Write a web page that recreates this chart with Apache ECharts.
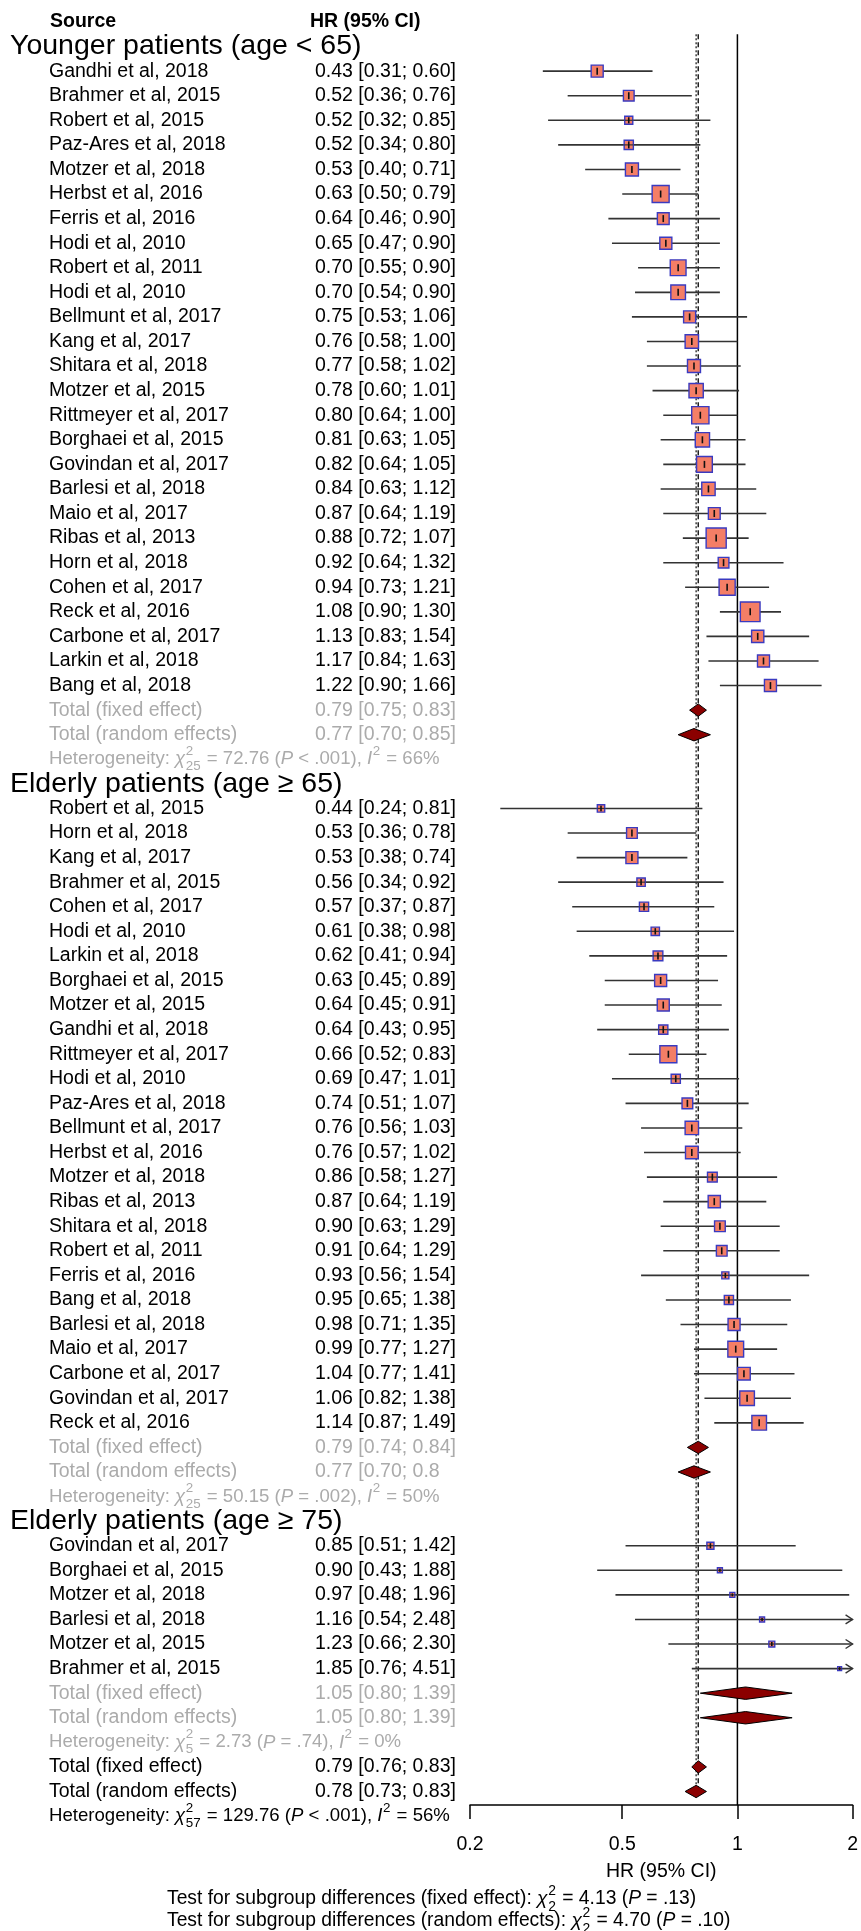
<!DOCTYPE html>
<html><head><meta charset="utf-8">
<script src="https://cdn.jsdelivr.net/npm/echarts@6/dist/echarts.min.js"></script>
<style>html,body{margin:0;padding:0;background:#fff}#c{width:861px;height:1931px}</style>
</head><body><div id="c"></div>
<script>
// ---------------- DATA ----------------
const groupHeaders = ['Younger patients (age < 65)', 'Elderly patients (age \u2265 65)', 'Elderly patients (age \u2265 75)'];

const youngNames = ['Gandhi et al, 2018','Brahmer et al, 2015','Robert et al, 2015','Paz-Ares et al, 2018','Motzer et al, 2018','Herbst et al, 2016','Ferris et al, 2016','Hodi et al, 2010','Robert et al, 2011','Hodi et al, 2010','Bellmunt et al, 2017','Kang et al, 2017','Shitara et al, 2018','Motzer et al, 2015','Rittmeyer et al, 2017','Borghaei et al, 2015','Govindan et al, 2017','Barlesi et al, 2018','Maio et al, 2017','Ribas et al, 2013','Horn et al, 2018','Cohen et al, 2017','Reck et al, 2016','Carbone et al, 2017','Larkin et al, 2018','Bang et al, 2018'];
const youngHR = [0.43,0.52,0.52,0.52,0.53,0.63,0.64,0.65,0.70,0.70,0.75,0.76,0.77,0.78,0.80,0.81,0.82,0.84,0.87,0.88,0.92,0.94,1.08,1.13,1.17,1.22];
const youngLo = [0.31,0.36,0.32,0.34,0.40,0.50,0.46,0.47,0.55,0.54,0.53,0.58,0.58,0.60,0.64,0.63,0.64,0.63,0.64,0.72,0.64,0.73,0.90,0.83,0.84,0.90];
const youngHi = [0.60,0.76,0.85,0.80,0.71,0.79,0.90,0.90,0.90,0.90,1.06,1.00,1.02,1.01,1.00,1.05,1.05,1.12,1.19,1.07,1.32,1.21,1.30,1.54,1.63,1.66];
const youngW  = [2.9,2.3,1.3,1.7,3.4,5.8,2.8,2.9,5.0,4.3,2.9,3.6,3.4,4.1,6.0,4.1,5.0,3.6,2.8,8.1,2.3,5.2,7.8,3.0,2.9,2.9];

const eldNames = ['Robert et al, 2015','Horn et al, 2018','Kang et al, 2017','Brahmer et al, 2015','Cohen et al, 2017','Hodi et al, 2010','Larkin et al, 2018','Borghaei et al, 2015','Motzer et al, 2015','Gandhi et al, 2018','Rittmeyer et al, 2017','Hodi et al, 2010','Paz-Ares et al, 2018','Bellmunt et al, 2017','Herbst et al, 2016','Motzer et al, 2018','Ribas et al, 2013','Shitara et al, 2018','Robert et al, 2011','Ferris et al, 2016','Bang et al, 2018','Barlesi et al, 2018','Maio et al, 2017','Carbone et al, 2017','Govindan et al, 2017','Reck et al, 2016'];
const eldHR = [0.44,0.53,0.53,0.56,0.57,0.61,0.62,0.63,0.64,0.64,0.66,0.69,0.74,0.76,0.76,0.86,0.87,0.90,0.91,0.93,0.95,0.98,0.99,1.04,1.06,1.14];
const eldLo = [0.24,0.36,0.38,0.34,0.37,0.38,0.41,0.45,0.45,0.43,0.52,0.47,0.51,0.56,0.57,0.58,0.64,0.63,0.64,0.56,0.65,0.71,0.77,0.77,0.82,0.87];
const eldHi = [0.81,0.78,0.74,0.92,0.87,0.98,0.94,0.89,0.91,0.95,0.83,1.01,1.07,1.03,1.02,1.27,1.19,1.29,1.29,1.54,1.38,1.35,1.27,1.41,1.38,1.49];
const eldW  = [1.1,2.3,2.9,1.4,1.7,1.4,1.9,2.9,2.9,1.7,5.8,1.7,2.3,3.6,3.2,1.9,3.0,2.3,2.3,1.0,1.7,2.9,5.0,3.2,4.3,4.3];

const old75Names = ['Govindan et al, 2017','Borghaei et al, 2015','Motzer et al, 2018','Barlesi et al, 2018','Motzer et al, 2015','Brahmer et al, 2015'];
const old75HR = [0.85,0.90,0.97,1.16,1.23,1.85];
const old75Lo = [0.51,0.43,0.48,0.54,0.66,0.76];
const old75Hi = [1.42,1.88,1.96,2.48,2.30,4.51];
const old75W  = [1.0,0.5,0.5,0.5,0.7,0.3];

const fixedHR = [0.79,0.79,1.05], fixedLo = [0.75,0.74,0.80], fixedHi = [0.83,0.84,1.39];
const randomHR = [0.77,0.77,1.05], randomLo = [0.70,0.70,0.80], randomHi = [0.85,0.85,1.39];
const fixedLabels = ['0.79 [0.75; 0.83]','0.79 [0.74; 0.84]','1.05 [0.80; 1.39]'];
const randomLabels = ['0.77 [0.70; 0.85]','0.77 [0.70; 0.8','1.05 [0.80; 1.39]'];

const overallFixed = [0.79,0.76,0.83];
const overallRandom = [0.78,0.73,0.83];
const overallLabels = ['0.79 [0.76; 0.83]','0.78 [0.73; 0.83]'];

const hetDf  = ['25','25','5','57'];
const hetChi = ['72.76','50.15','2.73','129.76'];
const hetP   = ['< .001','= .002','= .74','< .001'];
const hetI2  = ['66%','50%','0%','56%'];

const testLabels = ['Test for subgroup differences (fixed effect): ','Test for subgroup differences (random effects): '];
const testDf = ['2','2'];
const testChi = ['4.13','4.70'];
const testP = ['= .13','= .10'];

const xTicks = [0.2,0.5,1,2];
const xTickLabels = ['0.2','0.5','1','2'];
const colHeaders = ['Source','HR (95% CI)'];
const totalNames = ['Total (fixed effect)','Total (random effects)'];
const axisName = 'HR (95% CI)';

// ---------------- BUILD ----------------
const X_MIN = 0.2, X_MAX = 2;
const FONT = '"Liberation Sans", Arial, sans-serif';
const GREY = '#ababab';
const fmt = (h,l,u) => h.toFixed(2)+' ['+l.toFixed(2)+'; '+u.toFixed(2)+']';

const groups = [
  {names: youngNames, hr: youngHR, lo: youngLo, hi: youngHi, w: youngW},
  {names: eldNames, hr: eldHR, lo: eldLo, hi: eldHi, w: eldW},
  {names: old75Names, hr: old75HR, lo: old75Lo, hi: old75Hi, w: old75W}
];
const labelRows = [{row:-2, kind:'colhead'}];
const marks = [];
let r = -1;
groups.forEach((g, gi) => {
  labelRows.push({row:r, kind:'header', text:groupHeaders[gi]}); r++;
  g.names.forEach((n,i) => {
    labelRows.push({row:r, kind:'study', name:n, hrText:fmt(g.hr[i],g.lo[i],g.hi[i]), color:'#000'});
    marks.push([g.hr[i], r, g.lo[i], g.hi[i], g.w[i], 0]); r++;
  });
  labelRows.push({row:r, kind:'study', name:totalNames[0], hrText:fixedLabels[gi], color:GREY});
  marks.push([fixedHR[gi], r, fixedLo[gi], fixedHi[gi], 0, 1]); r++;
  labelRows.push({row:r, kind:'study', name:totalNames[1], hrText:randomLabels[gi], color:GREY});
  marks.push([randomHR[gi], r, randomLo[gi], randomHi[gi], 0, 1]); r++;
  labelRows.push({row:r, kind:'het', gi:gi, color:GREY}); r++;
});
labelRows.push({row:r, kind:'study', name:totalNames[0], hrText:overallLabels[0], color:'#000'});
marks.push([overallFixed[0], r, overallFixed[1], overallFixed[2], 0, 1]); r++;
labelRows.push({row:r, kind:'study', name:totalNames[1], hrText:overallLabels[1], color:'#000'});
marks.push([overallRandom[0], r, overallRandom[1], overallRandom[2], 0, 1]); const randomRow = r; r++;
labelRows.push({row:r, kind:'het', gi:3, color:'#000'});

const Y_MIN = -2, Y_MAX = 70.55;

// text measuring
const mctx = document.createElement('canvas').getContext('2d');
function fontStr(size, italic, bold){ return (italic?'italic ':'')+(bold?'bold ':'')+size+'px '+FONT; }
function tw(t, f){ mctx.font = f; return mctx.measureText(t).width; }
function mathText(parts, x0, y0, size, color){
  const els = []; let x = x0; const ss = size*0.72;
  parts.forEach(p => {
    if (p.t !== undefined) {
      const f = fontStr(size, p.it);
      els.push({type:'text', x:x, y:y0, style:{text:p.t, font:f, fill:color, align:'left', verticalAlign:'middle'}});
      x += tw(p.t, f);
    } else {
      const f = fontStr(ss); let wm = 0;
      if (p.sup) { els.push({type:'text', x:x+0.5, y:y0 - size*0.42, style:{text:p.sup, font:f, fill:color, align:'left', verticalAlign:'middle'}}); wm = Math.max(wm, tw(p.sup,f)); }
      if (p.sub) { els.push({type:'text', x:x+0.5, y:y0 + size*0.4, style:{text:p.sub, font:f, fill:color, align:'left', verticalAlign:'middle'}}); wm = Math.max(wm, tw(p.sub,f)); }
      x += wm + 1.5;
    }
  });
  return els;
}
function hetParts(gi){
  return [{t:'Heterogeneity: '},{t:'\u03c7', it:true},{sup:'2', sub:hetDf[gi]},{t:' = '+hetChi[gi]+' ('},{t:'P', it:true},{t:' '+hetP[gi]+'), '},{t:'I', it:true},{sup:'2'},{t:' = '+hetI2[gi]}];
}
function testParts(i){
  return [{t:testLabels[i]},{t:'\u03c7', it:true},{sup:'2', sub:testDf[i]},{t:' = '+testChi[i]+' ('},{t:'P', it:true},{t:' '+testP[i]+')'}];
}

const NAME_X = 49, HR_X = 315, HEAD_X = 10, BASE = 19.5, HET = 18.6, TEST = 19.3;

function renderLabels(params, api){
  const L = labelRows[params.dataIndex];
  const y = api.coord([1, api.value(1)])[1];
  const ch = [];
  if (L.kind === 'colhead') {
    ch.push({type:'text', x:50, y:y, style:{text:colHeaders[0], font:fontStr(BASE,false,true), fill:'#000', align:'left', verticalAlign:'middle'}});
    ch.push({type:'text', x:310, y:y, style:{text:colHeaders[1], font:fontStr(BASE,false,true), fill:'#000', align:'left', verticalAlign:'middle'}});
  } else if (L.kind === 'header') {
    ch.push({type:'text', x:HEAD_X, y:y, style:{text:L.text, font:fontStr(28.5), fill:'#000', align:'left', verticalAlign:'middle'}});
  } else if (L.kind === 'study') {
    ch.push({type:'text', x:NAME_X, y:y, style:{text:L.name, font:fontStr(BASE), fill:L.color, align:'left', verticalAlign:'middle'}});
    ch.push({type:'text', x:HR_X, y:y, style:{text:L.hrText, font:fontStr(BASE), fill:L.color, align:'left', verticalAlign:'middle'}});
  } else if (L.kind === 'het') {
    mathText(hetParts(L.gi), NAME_X, y, HET, L.color).forEach(e => ch.push(e));
  }
  return {type:'group', children:ch};
}

function renderForest(params, api){
  const hr = api.value(0), row = api.value(1), lo = api.value(2), hi = api.value(3), w = api.value(4), kind = api.value(5);
  const pc = api.coord([hr, row]);
  const pl = api.coord([Math.max(lo, X_MIN), row]);
  const ph = api.coord([Math.min(hi, X_MAX), row]);
  const y = pc[1];
  const ch = [];
  if (kind === 1) {
    const h = 6.2;
    ch.push({type:'polygon', shape:{points:[[pl[0],y],[pc[0],y-h],[ph[0],y],[pc[0],y+h]]}, style:{fill:'#8b0000', stroke:'#000', lineWidth:1}});
  } else {
    ch.push({type:'line', shape:{x1:pl[0], y1:y, x2:ph[0], y2:y}, style:{stroke:'#333', lineWidth:1.6}});
    if (hi > X_MAX) {
      ch.push({type:'polyline', shape:{points:[[ph[0]-7,y-4.5],[ph[0],y],[ph[0]-7,y+4.5]]}, style:{stroke:'#333', lineWidth:1.4, fill:null}});
    }
    const s = 7.05*Math.sqrt(w);
    ch.push({type:'rect', shape:{x:pc[0]-s/2, y:y-s/2, width:s, height:s}, style:{fill:'#f47e66', stroke:'#3a3ac0', lineWidth:1.4}});
    if (s < 10) ch.push({type:'line', shape:{x1:pc[0]-s/2, y1:y, x2:pc[0]+s/2, y2:y}, style:{stroke:'#333', lineWidth:1.2}});
    const t = Math.max(3, Math.min(s-2, 7));
    ch.push({type:'line', shape:{x1:pc[0], y1:y-t/2, x2:pc[0], y2:y+t/2}, style:{stroke:'#111', lineWidth:1.6}});
  }
  return {type:'group', children:ch};
}

const chart = echarts.init(document.getElementById('c'), null, {renderer:'canvas'});
const tickLabel = v => { const i = xTicks.findIndex(t => Math.abs(t - v) < 1e-6); return i >= 0 ? xTickLabels[i] : ''; };

chart.setOption({
  animation: false,
  backgroundColor: '#fff',
  grid: {left: 470, right: 5, top: 22, bottom: 126, containLabel: false},
  xAxis: {
    type: 'log', logBase: 10, min: X_MIN, max: X_MAX,
    axisLine: {show: true, onZero: false, lineStyle: {color: '#000', width: 1.5}},
    axisTick: {show: true, customValues: xTicks, length: 14, lineStyle: {color: '#000', width: 1.5}},
    axisLabel: {customValues: xTicks, formatter: tickLabel, fontSize: 19.5, fontFamily: FONT, color: '#000', margin: 30},
    splitLine: {show: false}, minorTick: {show: false},
    name: axisName, nameLocation: 'middle', nameGap: 57,
    nameTextStyle: {fontSize: 19.5, fontFamily: FONT, color: '#000'}
  },
  yAxis: {type: 'value', min: Y_MIN, max: Y_MAX, inverse: true, show: false},
  series: [
    {type:'line', data:[[1,-1.5],[1,Y_MAX]], symbol:'none', lineStyle:{color:'#000', width:1.5}, silent:true, z:1},
    {type:'line', data:[[overallFixed[0],-1.5],[overallFixed[0],randomRow]], symbol:'none', lineStyle:{color:'#222', width:1.5, type:[5,3]}, silent:true, z:1},
    {type:'line', data:[[overallRandom[0],-1.5],[overallRandom[0],randomRow]], symbol:'none', lineStyle:{color:'#222', width:1.3, type:[2,2]}, silent:true, z:1},
    {type:'custom', data: marks, renderItem: renderForest, clip:false, silent:true, z:3},
    {type:'custom', data: labelRows.map(L => [1, L.row]), renderItem: renderLabels, clip:false, silent:true, z:4}
  ],
  graphic: {elements: [
    {type:'group', children: mathText(testParts(0), 167, 1899, TEST, '#000')},
    {type:'group', children: mathText(testParts(1), 167, 1921, TEST, '#000')}
  ]}
});
</script></body></html>
